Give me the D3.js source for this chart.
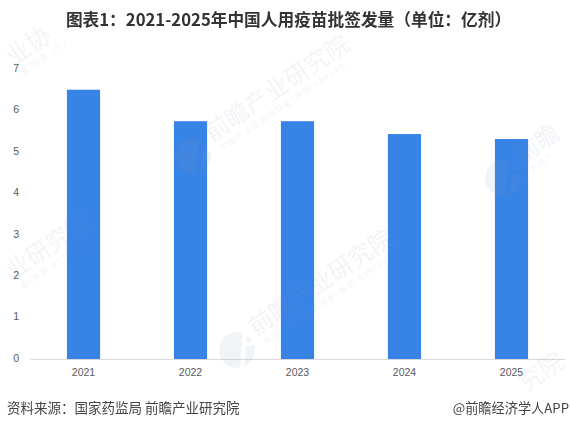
<!DOCTYPE html>
<html>
<head>
<meta charset="utf-8">
<script src="https://cdn.jsdelivr.net/npm/d3@7"></script>
<style>
    html, body { margin: 0; padding: 0; background: #fff; }
    svg { display: block; }
    text { font-family: "Noto Sans CJK SC", "Noto Sans", sans-serif; }
</style>
</head>
<body>
<div id="chart"></div>
<script>
// Chart data
const years = ["2021", "2022", "2023", "2024", "2025"];
const doses = [6.5, 5.74, 5.74, 5.43, 5.31];
const yTicks = [0, 1, 2, 3, 4, 5, 6, 7];

const titleText = "图表1：2021-2025年中国人用疫苗批签发量（单位：亿剂）";
const sourceText = "资料来源：国家药监局 前瞻产业研究院";
const creditText = "@前瞻经济学人APP";

const WIDTH = 570;
const HEIGHT = 429;
const MARGIN = { left: 30, right: 5, top: 69, bottom: 70 };
const MARK_ANGLE = -34;
const MARK_FILL = "#8aa0b8";
const MARK_OPACITY = 0.12;

const svg = d3.select("#chart").append("svg").attr("width", WIDTH).attr("height", HEIGHT);

drawChart();
drawWatermarks();
drawText();

/**
 * Bars and axes
 */
function drawChart () {
    const x = d3.scaleBand()
        .domain(years)
        .range([MARGIN.left, WIDTH - MARGIN.right])
        .paddingInner(0.69)
        .paddingOuter(0.345);

    const y = d3.scaleLinear()
        .domain([0, 7])
        .range([HEIGHT - MARGIN.bottom, MARGIN.top]);

    svg.append("g").selectAll("rect")
        .data(years)
        .join("rect")
        .attr("x", d => x(d))
        .attr("y", (d, i) => y(doses[i]))
        .attr("width", x.bandwidth())
        .attr("height", (d, i) => y(0) - y(doses[i]))
        .attr("fill", "#3783e6");

    const xAxis = svg.append("g")
        .attr("transform", `translate(0,${y(0)})`)
        .call(d3.axisBottom(x).tickSize(0).tickPadding(10));
    xAxis.select(".domain").attr("stroke", "#d9d9d9");
    xAxis.selectAll("text").attr("font-size", 10.5).attr("fill", "#595959")
        .style("font-family", '"Liberation Sans", sans-serif');

    const yAxis = svg.append("g")
        .attr("transform", `translate(${MARGIN.left},-1)`)
        .call(d3.axisLeft(y).tickValues(yTicks).tickFormat(d3.format("d")).tickSize(0).tickPadding(11));
    yAxis.select(".domain").remove();
    yAxis.selectAll("text").attr("font-size", 10.5).attr("fill", "#595959")
        .style("font-family", '"Liberation Sans", sans-serif');
}

/**
 * Faint diagonal brand marks, only the parts that show inside the picture
 */
function drawWatermarks () {
    const spots = [
        { x: 212, y: 142, name: "前瞻产业研究院", sub: "中国产业咨询领导者(股票:839599)", logo: true },
        { x: 256, y: 336, name: "前瞻产业研究院", sub: "中国产业咨询领导者(股票:839599)", logo: true },
        { x: 522, y: 164, name: "前瞻", sub: "中国产", logo: true },
        { x: 13, y: 280, name: "业研究院", sub: "者(股票:839599)", logo: false },
        { x: 13, y: 66, name: "业协", sub: "者(股票:839", logo: false },
        { x: 526, y: 392, name: "究院", sub: "", logo: false }
    ];

    const defs = svg.append("defs");
    const g = svg.append("g").attr("class", "watermarks")
        .attr("fill", MARK_FILL).attr("opacity", MARK_OPACITY);

    spots.forEach((d, i) => {
        if (d.logo) {
            const cx = d.x - 19;
            const cy = d.y + 14;
            // round badge with a letter cut out of it
            const mask = defs.append("mask").attr("id", `logo-${i}`)
                .attr("maskUnits", "userSpaceOnUse")
                .attr("x", cx - 20).attr("y", cy - 20).attr("width", 40).attr("height", 40);
            mask.append("circle").attr("cx", cx).attr("cy", cy).attr("r", 18).attr("fill", "#fff");
            mask.append("path")
                .attr("d", `M${cx + 8},${cy - 19}L${cx + 5},${cy + 19}M${cx + 6},${cy - 5}L${cx + 19},${cy - 7}`)
                .attr("stroke", "#000").attr("stroke-width", 4).attr("fill", "none");
            g.append("circle").attr("cx", cx).attr("cy", cy).attr("r", 18)
                .attr("mask", `url(#logo-${i})`);
        }
        const mark = g.append("g").attr("transform", `translate(${d.x},${d.y}) rotate(${MARK_ANGLE})`);
        mark.append("text").attr("font-size", 24).text(d.name);
        if (d.sub) {
            mark.append("text").attr("x", 3).attr("y", 13)
                .attr("font-size", 8).attr("letter-spacing", 1.6).text(d.sub);
        }
    });
}

/**
 * Title and footer
 */
function drawText () {
    svg.append("text").attr("x", 288.5).attr("y", 25.5)
        .attr("text-anchor", "middle").attr("font-size", 16.7).attr("font-weight", 700)
        .attr("fill", "#333").text(titleText);
    svg.append("text").attr("x", 7).attr("y", 413)
        .attr("font-size", 13.5).attr("fill", "#444").text(sourceText);
    svg.append("text").attr("x", 569).attr("y", 413).attr("text-anchor", "end")
        .attr("font-size", 13.2).attr("fill", "#444").text(creditText);
}
</script>
</body>
</html>
